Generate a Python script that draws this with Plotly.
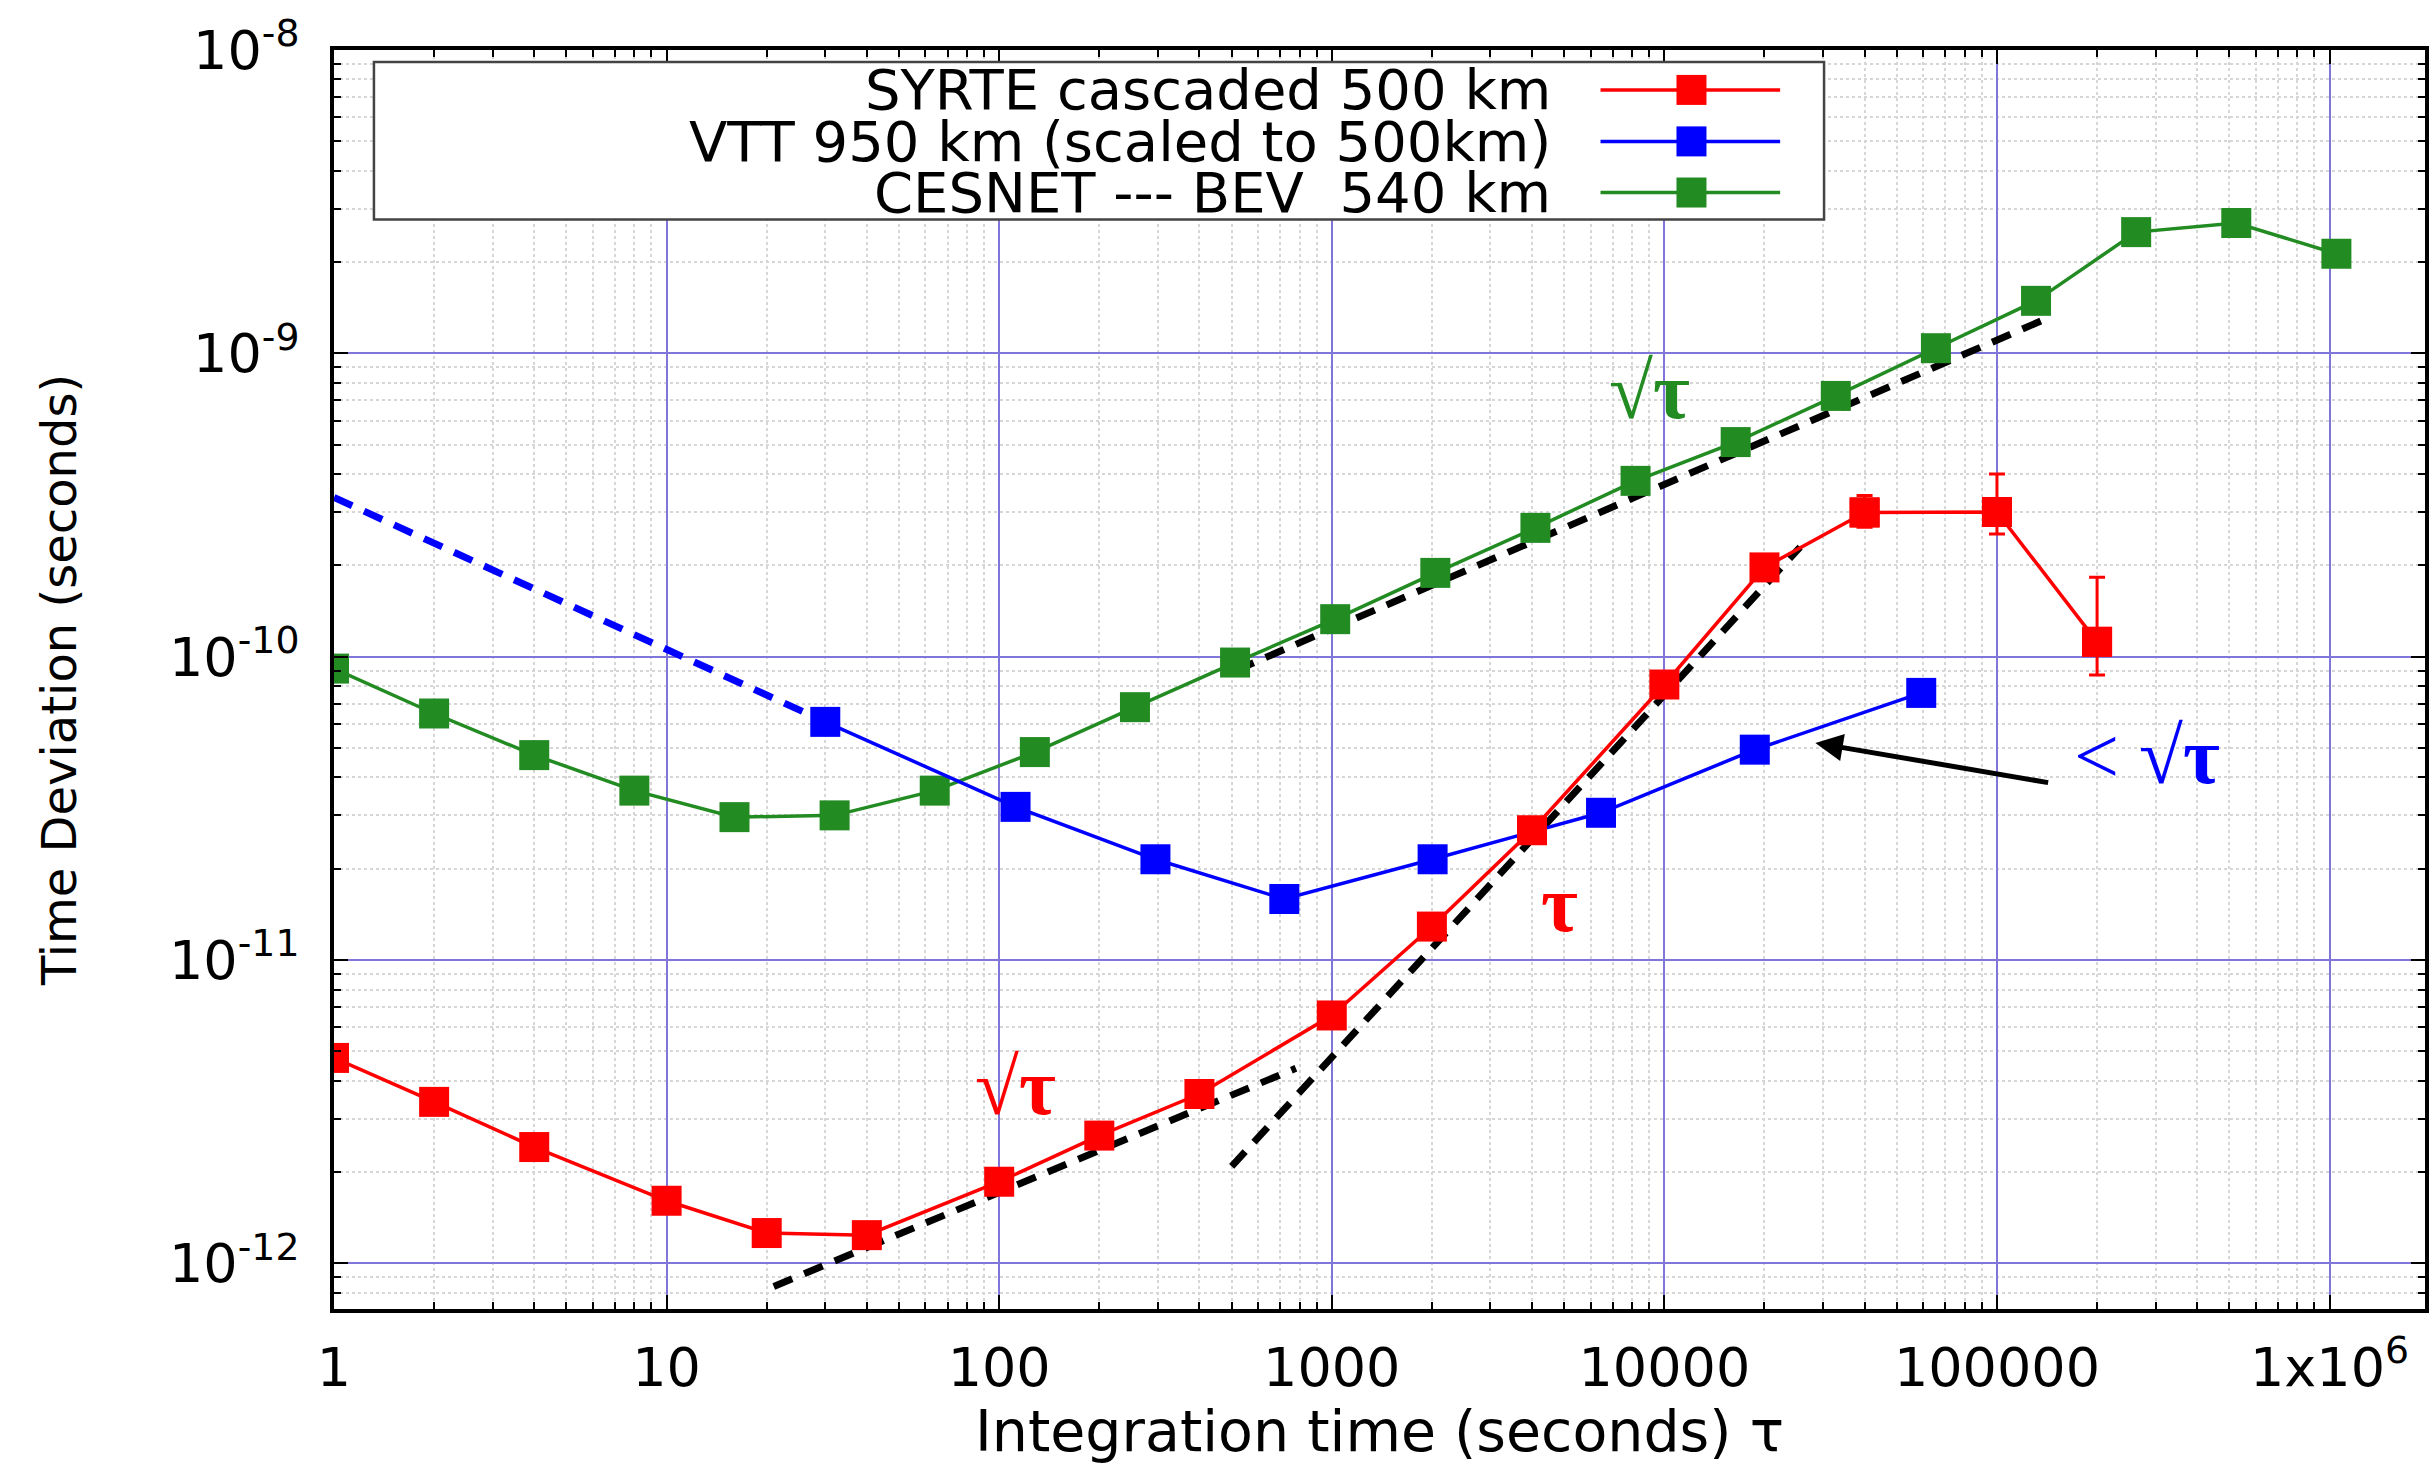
import numpy as np
import plotly.graph_objects as go

# ---- data: time deviation (s) versus integration time tau (s) ----
syrte_tau = [1, 2, 4, 10, 20, 40, 100, 200, 400, 1000, 2000, 4000,
             10000, 20000, 40000, 100000, 200000]
syrte_tdev = [4.76e-12, 3.41e-12, 2.42e-12, 1.61e-12, 1.26e-12, 1.24e-12,
              1.86e-12, 2.64e-12, 3.62e-12, 6.57e-12, 1.29e-11, 2.68e-11,
              8.1e-11, 1.97e-10, 2.99e-10, 3.0e-10, 1.12e-10]
# error bars on the last three SYRTE points (upper / lower ends)
syrte_err_tau = [40000, 100000, 200000]
syrte_err_val = [2.99e-10, 3.0e-10, 1.12e-10]
syrte_err_hi = [3.40e-10, 4.0e-10, 1.83e-10]
syrte_err_lo = [2.67e-10, 2.54e-10, 8.7e-11]

vtt_tau = [30, 112, 295, 720, 2010, 6450, 18700, 59200]
vtt_tdev = [6.1e-11, 3.2e-11, 2.15e-11, 1.59e-11, 2.15e-11, 3.06e-11,
            4.94e-11, 7.6e-11]
# short-term extrapolation of the VTT curve
vtt_ext_tau = [1, 30]
vtt_ext_tdev = [3.35e-10, 6.1e-11]

cesnet_tau = [1, 2, 4, 8, 16, 32, 64, 128, 256, 512, 1024, 2048, 4096,
              8192, 16384, 32768, 65536, 131072, 262144, 524288, 1048576]
cesnet_tdev = [9.14e-11, 6.5e-11, 4.74e-11, 3.62e-11, 2.96e-11, 3.0e-11,
               3.62e-11, 4.85e-11, 6.82e-11, 9.57e-11, 1.33e-10, 1.89e-10,
               2.66e-10, 3.8e-10, 5.1e-10, 7.24e-10, 1.04e-9, 1.49e-9,
               2.51e-9, 2.69e-9, 2.13e-9]

# slope guides
guide_red_sqrt_tau = [21, 780]
guide_red_sqrt_tdev = [8.4e-13, 4.4e-12]
guide_red_lin_tau = [500, 25600]
guide_red_lin_tdev = [2.09e-12, 2.3e-10]
guide_green_sqrt_tau = [513, 145000]
guide_green_sqrt_tdev = [9.0e-11, 1.32e-9]

# axis ticks
x_tickvals = [1, 10, 100, 1000, 10000, 100000, 1000000]
x_ticktext = ["1", "10", "100", "1000", "10000", "100000", "1x10<sup>6</sup>"]
y_tickvals = [1e-12, 1e-11, 1e-10, 1e-9, 1e-8]
y_ticktext = ["10<sup>-12</sup>", "10<sup>-11</sup>", "10<sup>-10</sup>",
              "10<sup>-9</sup>", "10<sup>-8</sup>"]

legend_names = ["SYRTE cascaded 500 km", "VTT 950 km (scaled to 500km)",
                "CESNET --- BEV  540 km"]

RED = "#ff0000"
BLUE = "#0000ff"
GREEN = "#228b22"
MAJOR_GRID = "rgb(128,118,218)"
MINOR_GRID = "rgb(214,214,214)"
SANS = "DejaVu Sans"
SERIF = "Liberation Serif"

MARKER_SIZE = 30
LINE_W = 3.5

fig = go.Figure()

# dashed guide lines
for tx, ty, col in [
    (vtt_ext_tau, vtt_ext_tdev, BLUE),
    (guide_red_sqrt_tau, guide_red_sqrt_tdev, "black"),
    (guide_red_lin_tau, guide_red_lin_tdev, "black"),
    (guide_green_sqrt_tau, guide_green_sqrt_tdev, "black"),
]:
    fig.add_trace(go.Scatter(x=tx, y=ty, mode="lines", showlegend=False,
                             line=dict(color=col, width=7, dash="20px,13px")))

# measured curves
for tx, ty, col in [
    (cesnet_tau, cesnet_tdev, GREEN),
    (vtt_tau, vtt_tdev, BLUE),
    (syrte_tau, syrte_tdev, RED),
]:
    fig.add_trace(go.Scatter(
        x=tx, y=ty, mode="lines+markers", showlegend=False,
        line=dict(color=col, width=LINE_W),
        marker=dict(symbol="square", size=MARKER_SIZE, color=col,
                    line=dict(width=0))))

err_plus = [h - v for h, v in zip(syrte_err_hi, syrte_err_val)]
err_minus = [v - l for v, l in zip(syrte_err_val, syrte_err_lo)]
fig.add_trace(go.Scatter(
    x=syrte_err_tau, y=syrte_err_val, mode="markers", showlegend=False,
    marker=dict(symbol="square", size=MARKER_SIZE, color=RED),
    error_y=dict(type="data", symmetric=False, array=err_plus,
                 arrayminus=err_minus, color=RED, thickness=3, width=8)))

def minor_vals(lo_exp, hi_exp):
    return [k * 10.0 ** e for e in range(lo_exp, hi_exp) for k in range(2, 10)]

axis_common = dict(
    type="log", showline=True, linecolor="black", linewidth=3.5,
    mirror="allticks", ticks="inside", ticklen=14, tickwidth=2,
    tickcolor="black", showgrid=True, gridcolor=MAJOR_GRID, gridwidth=2,
    zeroline=False, tickmode="array",
)

fig.update_xaxes(
    **axis_common, range=[0, 6.287], tickvals=x_tickvals, ticktext=x_ticktext,
    tickfont=dict(family=SANS, size=54, color="black"),
    ticklabelstandoff=8,
    minor=dict(tickmode="array", tickvals=minor_vals(0, 7), ticks="inside",
               ticklen=7, tickwidth=1.5, tickcolor="black", showgrid=True,
               gridcolor=MINOR_GRID, gridwidth=1.5, griddash="dot"),
    title=dict(text="Integration time (seconds) \u03c4",
               font=dict(family=SANS, size=57, color="black"), standoff=22),
)
fig.update_yaxes(
    **axis_common, range=[-12.15, -8], tickvals=y_tickvals, ticktext=y_ticktext,
    tickfont=dict(family=SANS, size=54, color="black"),
    ticklabelstandoff=20,
    minor=dict(tickmode="array", tickvals=minor_vals(-13, -8), ticks="inside",
               ticklen=7, tickwidth=1.5, tickcolor="black", showgrid=True,
               gridcolor=MINOR_GRID, gridwidth=1.5, griddash="dot"),
    title=dict(text="Time Deviation (seconds)",
               font=dict(family=SANS, size=48, color="black"), standoff=78),
)

# ---- hand-built key box: text on the left, line sample on the right ----
key_x0, key_x1, key_y0, key_y1 = 0.0191, 0.7126, 0.8654, 0.9905
key_rows = [0.9683, 0.9274, 0.8868]
key_text_right = 0.5828
key_line_x0, key_line_x1, key_mark_x = 0.6057, 0.6916, 0.6492
key_colors = [RED, BLUE, GREEN]

shapes = [dict(type="rect", xref="paper", yref="paper", x0=key_x0, x1=key_x1,
               y0=key_y0, y1=key_y1, fillcolor="white",
               line=dict(color="#444444", width=2.5), layer="above")]
annotations = []
for name, yrow, col in zip(legend_names, key_rows, key_colors):
    annotations.append(dict(text=name, xref="paper", yref="paper",
                            x=key_text_right, y=yrow, xanchor="right",
                            yanchor="middle", showarrow=False,
                            font=dict(family=SANS, size=56, color="black")))
    shapes.append(dict(type="line", xref="paper", yref="paper",
                       x0=key_line_x0, x1=key_line_x1, y0=yrow, y1=yrow,
                       line=dict(color=col, width=LINE_W), layer="above"))
    shapes.append(dict(type="rect", xref="paper", yref="paper",
                       xsizemode="pixel", ysizemode="pixel",
                       xanchor=key_mark_x, yanchor=yrow,
                       x0=-MARKER_SIZE / 2, x1=MARKER_SIZE / 2,
                       y0=-MARKER_SIZE / 2, y1=MARKER_SIZE / 2,
                       fillcolor=col, line=dict(width=0), layer="above"))

# ---- slope labels ----
def lbl(tau, tdev, text, col, size=80):
    return dict(x=np.log10(tau), y=np.log10(tdev), xref="x", yref="y",
                text=text, showarrow=False, xanchor="center", yanchor="middle",
                font=dict(family=SERIF, size=size, color=col))

annotations += [
    lbl(9040, 7.5e-10, "\u221a<b>\u03c4</b>", GREEN),
    lbl(112, 3.83e-12, "\u221a<b>\u03c4</b>", RED),
    lbl(4822, 1.53e-11, "<b>\u03c4</b>", RED),
    lbl(2.82e5, 4.71e-11, "< \u221a<b>\u03c4</b>", BLUE),
]
# arrow pointing at the VTT curve
annotations.append(dict(
    x=np.log10(28450), y=np.log10(5.2e-11), xref="x", yref="y",
    ax=np.log10(1.44e5), ay=np.log10(3.84e-11), axref="x", ayref="y",
    text="", showarrow=True, arrowhead=2, arrowsize=1.1, arrowwidth=5,
    arrowcolor="black", standoff=0))

fig.update_layout(
    width=2433, height=1464,
    margin=dict(l=334, r=4, t=50, b=151),
    paper_bgcolor="white", plot_bgcolor="white",
    shapes=shapes, annotations=annotations, showlegend=False,
    font=dict(family=SANS, color="black"),
)

fig.write_html("out.html")
